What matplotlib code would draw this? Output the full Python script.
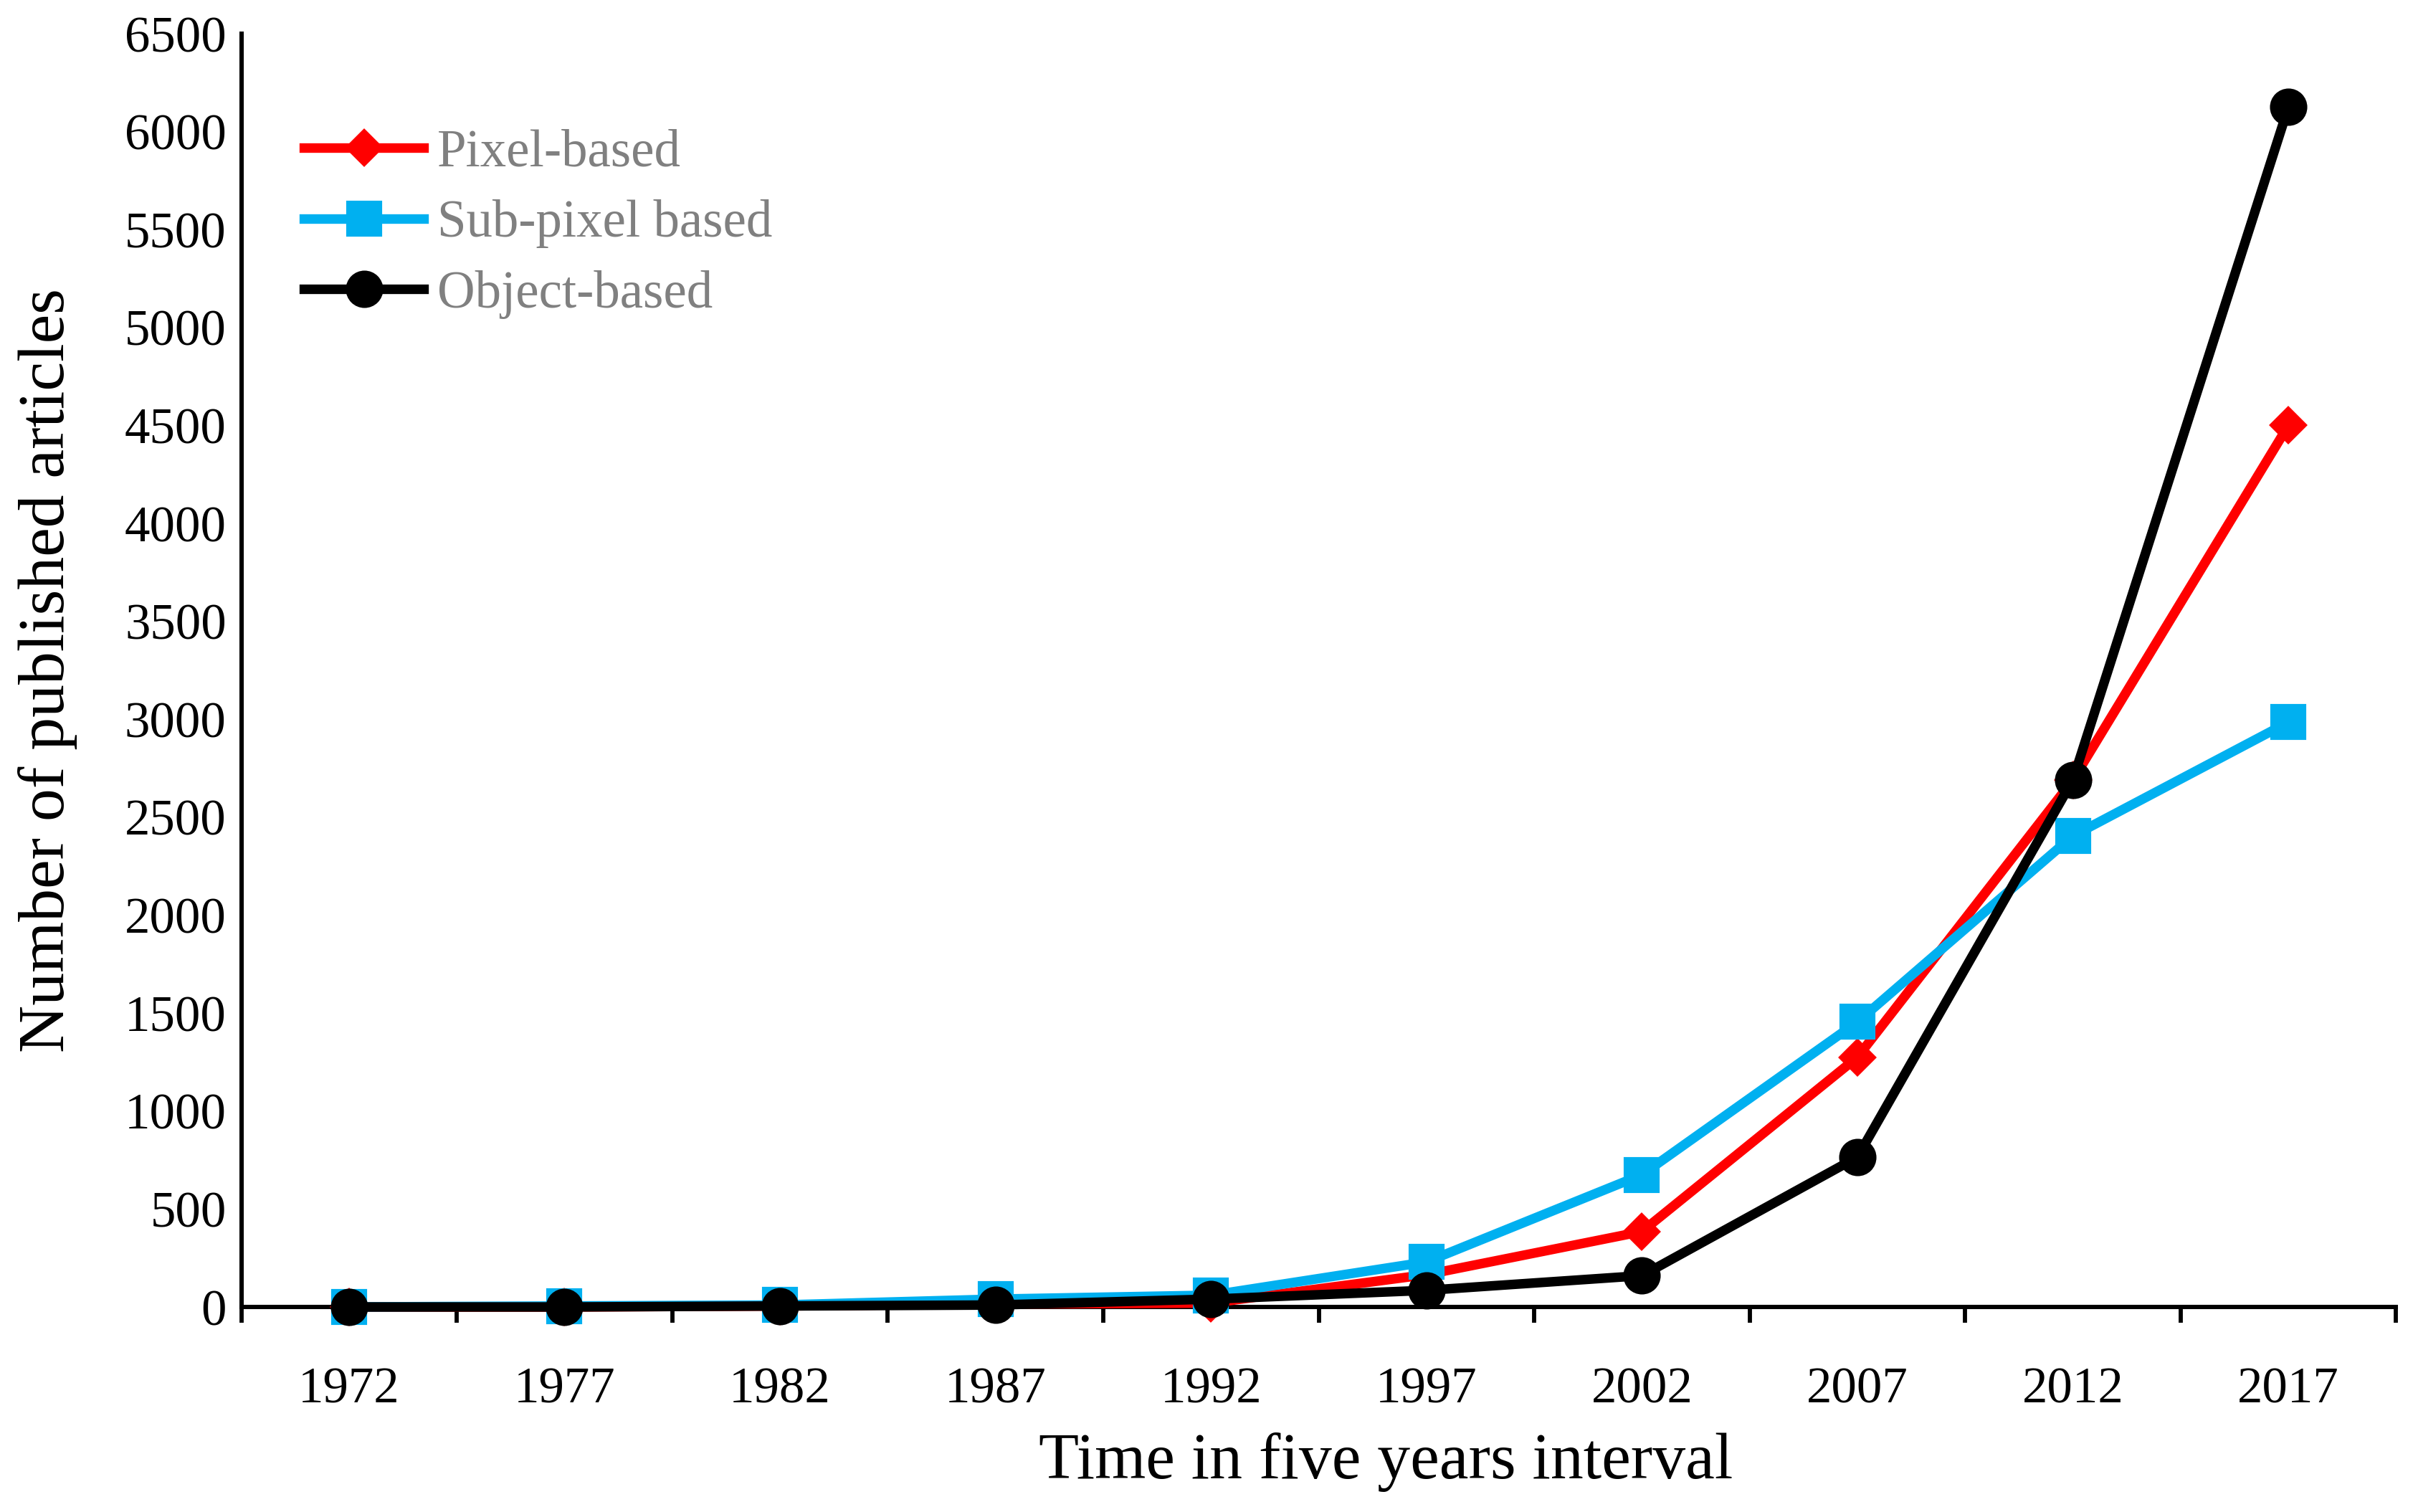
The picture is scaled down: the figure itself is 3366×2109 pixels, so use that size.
import numpy as np
import matplotlib
matplotlib.use('Agg')
import matplotlib.pyplot as plt

# Dados (número de artigos por intervalo de cinco anos)
anos = ['1972', '1977', '1982', '1987', '1992', '1997', '2002', '2007', '2012', '2017']
pixel = [0, 0, 5, 15, 20, 165, 385, 1275, 2690, 4500]
sub_pixel = [0, 5, 10, 40, 60, 230, 675, 1455, 2405, 2985]
objeto = [0, 0, 5, 10, 40, 85, 160, 765, 2690, 6125]

series = [
    (pixel, '#FF0000', 'D', 8, 'Pixel-based'),
    (sub_pixel, '#00B0F0', 's', 11, 'Sub-pixel based'),
    (objeto, '#000000', 'o', 11.5, 'Object-based'),
]

plt.rcParams['font.family'] = ['Liberation Serif', 'DejaVu Serif']

fig = plt.figure(figsize=(3366 / 300, 2109 / 300), dpi=300)
ax = fig.add_axes([0.100, 0.1356, 0.893, 0.8421])

x = np.arange(len(anos))
for valores, cor, marcador, tam, nome in series:
    ax.plot(x, valores, color=cor, marker=marcador, markersize=tam,
            markerfacecolor=cor, markeredgecolor=cor, linewidth=3.2,
            label=nome, clip_on=False, zorder=3)

ax.set_xlim(-0.5, len(anos) - 0.5)
ax.set_ylim(0, 6500)
ax.set_yticks(np.arange(0, 6501, 500))
ax.tick_params(axis='y', length=0, pad=5, labelsize=17)

# ticks nas fronteiras das categorias, rótulos no centro
ax.set_xticks(np.arange(-0.5, len(anos), 1.0))
ax.set_xticklabels([])
ax.set_xticks(x, minor=True)
ax.set_xticklabels(anos, minor=True)
ax.tick_params(axis='x', which='major', direction='out', length=5.3, width=1.4)
ax.tick_params(axis='x', which='minor', length=0, pad=20, labelsize=17)

for lado in ['top', 'right']:
    ax.spines[lado].set_visible(False)
for lado in ['left', 'bottom']:
    ax.spines[lado].set_linewidth(1.45)
    ax.spines[lado].set_zorder(2)

ax.set_ylabel('Number of published articles', fontsize=22, va='center')
ax.yaxis.set_label_coords(-0.090, 0.5)
ax.set_xlabel('Time in five years interval', fontsize=22, va='center')
ax.xaxis.set_label_coords(0.531, -0.122)

leg = ax.legend(loc='upper left', bbox_to_anchor=(0.029, 0.925), frameon=False,
                fontsize=17.5, handlelength=2.3, handletextpad=0.25,
                labelspacing=0.42, borderpad=0, borderaxespad=0)
for t in leg.get_texts():
    t.set_color('#808080')

fig.savefig('out.png', dpi=300)
